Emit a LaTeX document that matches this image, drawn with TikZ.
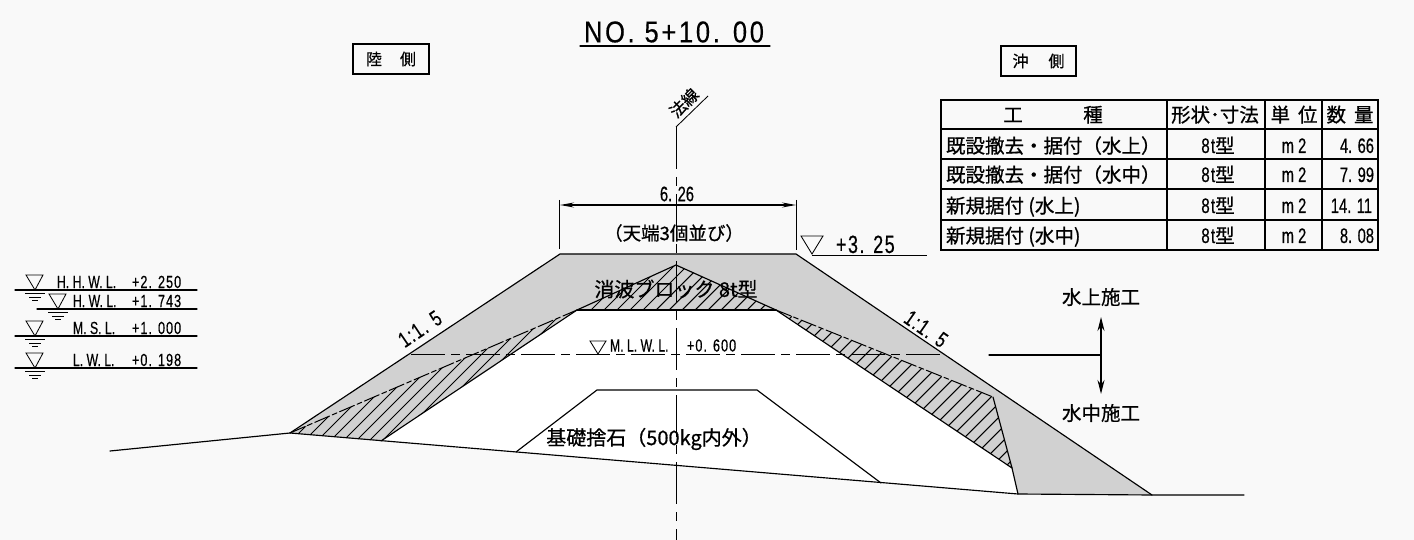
\documentclass[tikz,border=0pt]{standalone}
\usepackage{fontspec}
\setmainfont{Liberation Sans}
\newfontfamily\jp[FakeBold=0.7]{Noto Sans CJK JP}
\newfontfamily\nr[FakeStretch=0.70,FakeBold=0.4]{Liberation Sans}
\newfontfamily\nrn[FakeStretch=0.72,FakeBold=0.4,LetterSpace=6]{Liberation Sans}
\newfontfamily\nrw[FakeStretch=0.85,FakeBold=0.4,LetterSpace=9]{Liberation Sans}
\usetikzlibrary{arrows.meta}
\definecolor{paper}{gray}{0.975}
\definecolor{fillg}{gray}{0.82}
\tikzset{
  ln/.style={draw=black,line width=1.15pt,line cap=round,line join=miter},
  thin ln/.style={draw=black,line width=0.85pt},
  hatch/.style={draw=black,line width=1.05pt},
  txt/.style={inner sep=0pt,outer sep=0pt,text=black},
  lvl/.style={txt,anchor=base west,font=\fontsize{17.5}{17.5}\selectfont\nr},
  lvn/.style={txt,anchor=base west,font=\fontsize{17.5}{17.5}\selectfont\nrn},
  cell/.style={txt,anchor=base,font=\fontsize{19.5}{19.5}\selectfont\jp},
  cellw/.style={txt,anchor=base west,font=\fontsize{19.5}{19.5}\selectfont\jp},
  num/.style={txt,anchor=base east,font=\fontsize{21}{21}\selectfont\nr},
  lab/.style={txt,font=\fontsize{19.5}{19.5}\selectfont\jp},
  tip/.style={-{Stealth[length=14pt,width=7pt]}}
}
\newcommand{\wlevel}[3]{%
  \coordinate (#1t) at (#2,#3);
  \draw[thin ln] (#2-9,#3-15) -- (#2+8,#3-15) -- (#2,#3) -- cycle;
  \draw[thin ln] (#2-10,#3+3) -- (#2+10,#3+3);
  \draw[thin ln] (#2-6,#3+7) -- (#2+6,#3+7);
  \draw[thin ln] (#2-3,#3+10) -- (#2+3,#3+10);
}
\begin{document}
\begin{tikzpicture}[x=1pt,y=-1pt]
\useasboundingbox (0,0) rectangle (1414,540);
\fill[paper] (0,0) rectangle (1414,540);

% key points
\coordinate (tl) at (290,433);
\coordinate (cl) at (560,254);
\coordinate (cr) at (796,254);
\coordinate (tr) at (1152,495);
\coordinate (gr) at (1018,494);
\coordinate (kr) at (1012,468);
\coordinate (ir) at (776,310);
\coordinate (il) at (577,310);
\coordinate (bl) at (381,441);
\coordinate (ap) at (676,265);
\coordinate (ur) at (993,397);

% white interior and armour layer
\fill[white] (il) -- (ir) -- (kr) -- (gr) -- (tl) -- (bl) -- cycle;
\fill[fillg] (tl) -- (cl) -- (cr) -- (tr) -- (gr) -- (kr) -- (ir) -- (il) -- (bl) -- cycle;

% hatching
\begin{scope}
  \clip (tl) -- (il) -- (bl) -- cycle;
  \foreach \i in {0,...,24} \draw[hatch] (284+13*\i,448) -- ++(190,-190);
\end{scope}
\begin{scope}
  \clip (ap) -- (il) -- (ir) -- cycle;
  \foreach \i in {0,...,24} \draw[hatch] (555+13*\i,320) -- ++(70,-70);
\end{scope}
\begin{scope}
  \clip (ir) -- (ur) -- (kr) -- cycle;
  \foreach \i in {0,...,32} \draw[hatch] (600+14*\i,480) -- ++(190,-190);
\end{scope}

% dashed top of the left layer, edges of the hatching
\draw[ln,line width=1pt,dash pattern=on 16pt off 3pt on 5pt off 3pt] (tl) -- (il);
\draw[ln] (il) -- (ap) -- (ir);
\draw[ln,line width=1pt,dash pattern=on 16pt off 3pt on 5pt off 3pt] (ir) -- (ur);
\draw[ln] (ur) -- (kr);
\draw[ln] (il) -- (ir);
\draw[ln] (ir) -- (kr) -- (gr);
\draw[ln] (bl) -- (il);

% outline and ground
\coordinate (g0) at (110,451);
\coordinate (g1) at (1244,495);
\draw[ln] (g0) -- (tl) -- (cl) -- (cr) -- (tr) -- (g1);
\draw[ln] (tl) -- (gr) -- (tr);

% base rubble
\coordinate (r0) at (516,452);
\coordinate (r1) at (597,390);
\coordinate (r2) at (757,390);
\coordinate (r3) at (881,483);
\draw[ln] (r0) -- (r1) -- (r2) -- (r3);

% centre line
\coordinate (c0) at (676,127);
\coordinate (c1) at (676,540);
\coordinate (c2) at (708,96);
\draw[thin ln,dash pattern=on 42pt off 8pt on 9pt off 8pt] (c0) -- (c1);
\draw[thin ln] (c0) -- (c2);
\node[txt,rotate=45,font=\fontsize{16.5}{16.5}\selectfont\jp] (lawline) at (684,103) {法線};

% M.L.W.L. line
\coordinate (m0) at (411,354);
\coordinate (m1) at (945,354);
\draw[thin ln,dash pattern=on 34pt off 6pt on 9pt off 6pt] (m0) -- (m1);
\draw[thin ln] (590,341) -- (606,341) -- (598,354) -- cycle;
\node[lvl] (mlwl) at (610,351.5) {M. L. W. L.};
\node[lvn] (mlwv) at (687,351.5) {+0. 600};

% right-hand division
\coordinate (d0) at (989,355);
\coordinate (d1) at (1101,355);
\coordinate (d2) at (1101,317);
\coordinate (d3) at (1101,394);
\draw[ln] (d0) -- (d1);
\draw[ln,tip] (d1) -- (d2);
\draw[ln,tip] (d1) -- (d3);
\node[lab] (above) at (1101,297) {水上施工};
\node[lab] (under) at (1101,413) {水中施工};

% dimension
\coordinate (e0) at (560,205);
\coordinate (e1) at (796,205);
\draw[thin ln] (559.5,200) -- (559.5,249);
\draw[thin ln] (796,200) -- (796,250);
\draw[ln,{Stealth[length=14pt,width=5pt]}-{Stealth[length=14pt,width=5pt]}] (e0) -- (e1);
\node[txt,font=\fontsize{21}{21}\selectfont\nr] (dim) at (677,194) {6. 26};
\node[lab,font=\fontsize{18.5}{18.5}\selectfont\jp] (crest) at (674,233) {（天端3個並び）};

% +3.25
\draw[thin ln] (801,236) -- (823,236) -- (812,254) -- cycle;
\draw[thin ln] (812,255) -- (927,255);
\node[txt,anchor=base west,font=\fontsize{25}{25}\selectfont\nrn] (crestlv) at (836,253) {+3. 25};

% slope labels
\node[txt,rotate=34,font=\fontsize{22}{22}\selectfont\nrn] (sl) at (420,329) {1:1. 5};
\node[txt,rotate=-35,font=\fontsize{22}{22}\selectfont\nrn] (sr) at (926,329) {1:1. 5};

% inner labels
\node[lab,font=\fontsize{20}{20}\selectfont\jp] (block) at (676,289) {消波ブロック 8t型};
\node[lab,font=\fontsize{20}{20}\selectfont\jp] (rubble) at (654,439) {基礎捨石（500kg内外）};

% title
\node[txt,font=\fontsize{30}{30}\selectfont\nrw] (title) at (674,32) {NO. 5+10. 00};
\coordinate (u0) at (580,46);
\coordinate (u1) at (770,46);
\draw[ln] (u0) -- (u1);

% side boxes
\node[draw=black,line width=1.15pt,minimum width=76pt,minimum height=30pt,inner sep=0pt,font=\fontsize{16}{16}\selectfont\jp] (land) at (391,59) {陸\hspace{18pt}側};
\node[draw=black,line width=1.15pt,minimum width=75pt,minimum height=30pt,inner sep=0pt,font=\fontsize{16}{16}\selectfont\jp] (sea) at (1038.5,61) {沖\hspace{20pt}側};

% water levels
\wlevel{a}{35}{290}
\draw[ln] (15,290) -- (197,290);
\node[lvl] (l1) at (57,288) {H. H. W. L.};
\node[lvn] (v1) at (132,288) {+2. 250};
\wlevel{b}{58}{309}
\draw[ln] (37,309) -- (197,309);
\node[lvl] (l2) at (73,307) {H. W. L.};
\node[lvn] (v2) at (132,307) {+1. 743};
\wlevel{c}{35}{336}
\draw[ln] (15,336) -- (197,336);
\node[lvl] (l3) at (73,334) {M. S. L.};
\node[lvn] (v3) at (132,334) {+1. 000};
\wlevel{d}{35}{368}
\draw[ln] (15,368) -- (197,368);
\node[lvl] (l4) at (73,366) {L. W. L.};
\node[lvn] (v4) at (132,366) {+0. 198};

% table
\draw[ln,line cap=butt,line width=1.3pt] (941,100) rectangle (1378,250);
\foreach \y in {129,159,189,220} \draw[ln,line cap=butt] (941,\y) -- (1378,\y);
\foreach \x in {1167,1265,1322} \draw[ln,line cap=butt] (\x,100) -- (\x,250);

\node[cell] (h1) at (1013,122) {工};
\node[cell] (h1b) at (1093,122) {種};
\node[cell] (h2) at (1215,122) {形状･寸法};
\node[cell] (h3) at (1294,122) {単\hspace{8pt}位};
\node[cell] (h4) at (1350,122) {数\hspace{8pt}量};

\node[cellw] (r1a) at (946,153) {既設撤去・据付（水上）};
\node[cellw] (r2a) at (946,182) {既設撤去・据付（水中）};
\node[cellw] (r3a) at (946,213) {新規据付 (水上)};
\node[cellw] (r4a) at (946,243) {新規据付 (水中)};

\foreach \n/\y in {1/153,2/182,3/213,4/243}{
  \node[cell] (r\n b) at (1218,\y) {{\fontsize{21}{21}\selectfont\nrn 8t}型};
  \node[cell,font=\fontsize{21}{21}\selectfont\nr] (r\n c) at (1294,\y) {m 2};
}
\node[num] (r1d) at (1374,153) {4. 66};
\node[num] (r2d) at (1374,182) {7. 99};
\node[num] (r3d) at (1372,213) {14. 11};
\node[num] (r4d) at (1374,243) {8. 08};
\end{tikzpicture}
\end{document}
